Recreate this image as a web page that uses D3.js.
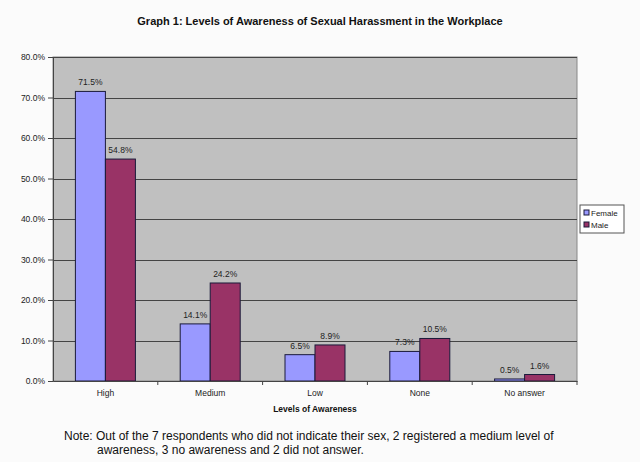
<!DOCTYPE html>
<html>
<head>
<meta charset="utf-8">
<script src="https://cdn.jsdelivr.net/npm/d3@7"></script>
<style>
  body { margin: 0; background: #fbfbfb; }
  svg { display: block; font-family: "Liberation Sans", Arial, sans-serif; }
</style>
</head>
<body>
<svg id="chart" width="640" height="462"></svg>
<script>
// data
const categories = ["High", "Medium", "Low", "None", "No answer"];
const female = [71.5, 14.1, 6.5, 7.3, 0.5];
const male = [54.8, 24.2, 8.9, 10.5, 1.6];
const yTicks = [0, 10, 20, 30, 40, 50, 60, 70, 80];
const seriesNames = ["Female", "Male"];
const colors = ["#9999ff", "#993366"];

const svg = d3.select("#chart");
const margin = { top: 57, left: 53, right: 577, bottom: 381 };

const x = d3.scaleBand()
  .domain(categories)
  .range([margin.left, margin.right]);

const y = d3.scaleLinear()
  .domain([0, 80])
  .range([margin.bottom, margin.top]);

const barW = 30;

// plot background
svg.append("rect")
  .attr("x", margin.left)
  .attr("y", margin.top)
  .attr("width", margin.right - margin.left)
  .attr("height", margin.bottom - margin.top)
  .attr("fill", "#c0c0c0")
  .attr("stroke", "#888")
  .attr("stroke-width", 1);

// gridlines
svg.append("g")
  .selectAll("line")
  .data(yTicks.filter(d => d > 0))
  .enter()
  .append("line")
  .attr("x1", margin.left)
  .attr("x2", margin.right)
  .attr("y1", d => Math.round(y(d)) + 0.5)
  .attr("y2", d => Math.round(y(d)) + 0.5)
  .attr("stroke", "#444")
  .attr("stroke-width", 1);

// bars
const groups = svg.append("g")
  .selectAll("g")
  .data(categories)
  .enter()
  .append("g");

[female, male].forEach((vals, s) => {
  groups.append("rect")
    .attr("x", (d, i) => x(d) + x.bandwidth() / 2 - barW + s * barW)
    .attr("y", (d, i) => y(vals[i]))
    .attr("width", barW)
    .attr("height", (d, i) => y(0) - y(vals[i]))
    .attr("fill", colors[s])
    .attr("stroke", "#1a1a3a")
    .attr("stroke-width", 1);

  groups.append("text")
    .attr("x", (d, i) => x(d) + x.bandwidth() / 2 - barW / 2 + s * barW)
    .attr("y", (d, i) => y(vals[i]) - 6)
    .attr("text-anchor", "middle")
    .attr("font-size", 8.5)
    .attr("fill", "#222")
    .text((d, i) => vals[i].toFixed(1) + "%");
});

// y axis
const yAxis = d3.axisLeft(y)
  .tickValues(yTicks)
  .tickSize(5)
  .tickFormat(d => d.toFixed(1) + "%");

svg.append("g")
  .attr("transform", `translate(${margin.left},0)`)
  .call(yAxis)
  .call(g => g.selectAll("text").attr("font-size", 8.5).attr("fill", "#222"))
  .call(g => g.selectAll("line, path").attr("stroke", "#444"));

// x axis
const xAxis = d3.axisBottom(x).tickSize(0).tickPadding(9);
const xg = svg.append("g")
  .attr("transform", `translate(0,${margin.bottom})`)
  .call(xAxis)
  .call(g => g.selectAll("text").attr("font-size", 8.5).attr("fill", "#222"))
  .call(g => g.select(".domain").attr("stroke", "#444"));

xg.selectAll(".sep")
  .data(categories.slice(1).concat(["__end"]))
  .enter()
  .append("line")
  .attr("x1", d => d === "__end" ? margin.right : x(d))
  .attr("x2", d => d === "__end" ? margin.right : x(d))
  .attr("y1", 0)
  .attr("y2", 4)
  .attr("stroke", "#444");

// title
svg.append("text")
  .attr("x", 320)
  .attr("y", 25)
  .attr("text-anchor", "middle")
  .attr("font-size", 11)
  .attr("font-weight", "bold")
  .attr("fill", "#111")
  .text("Graph 1: Levels of Awareness of Sexual Harassment in the Workplace");

// x axis title
svg.append("text")
  .attr("x", (margin.left + margin.right) / 2)
  .attr("y", 412)
  .attr("text-anchor", "middle")
  .attr("font-size", 8.5)
  .attr("font-weight", "bold")
  .attr("fill", "#111")
  .text("Levels of Awareness");

// legend
const legend = svg.append("g").attr("transform", "translate(580,205)");
legend.append("rect")
  .attr("width", 44)
  .attr("height", 28)
  .attr("fill", "#fff")
  .attr("stroke", "#555");
seriesNames.forEach((name, i) => {
  legend.append("rect")
    .attr("x", 4)
    .attr("y", 5 + i * 12)
    .attr("width", 5)
    .attr("height", 5)
    .attr("fill", colors[i])
    .attr("stroke", "#1a1a3a");
  legend.append("text")
    .attr("x", 11)
    .attr("y", 11 + i * 12)
    .attr("font-size", 8)
    .attr("fill", "#222")
    .text(name);
});

// note
const note = svg.append("text")
  .attr("font-size", 12)
  .attr("fill", "#111");
note.append("tspan")
  .attr("x", 64)
  .attr("y", 440)
  .text("Note: Out of the 7 respondents who did not indicate their sex, 2 registered a medium level of");
note.append("tspan")
  .attr("x", 97)
  .attr("y", 454)
  .attr("textLength", null)
  .text("awareness, 3 no awareness and 2 did not answer.");
</script>
</body>
</html>
